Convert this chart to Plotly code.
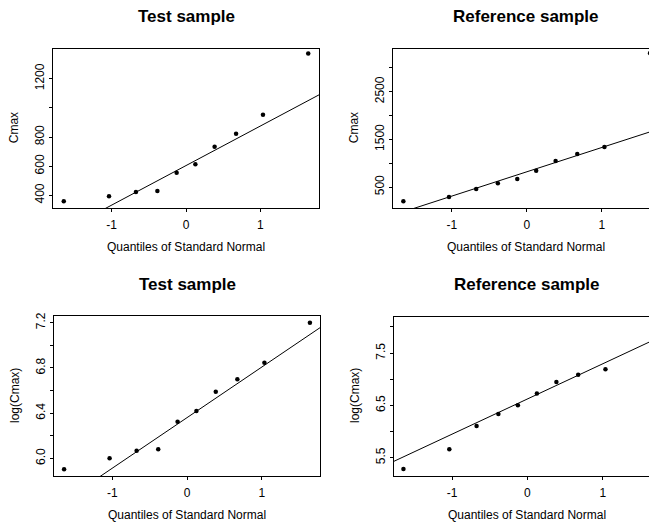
import plotly.graph_objects as go

# ---- data ----
normal_quantiles = [-1.645, -1.036, -0.674, -0.385, -0.126, 0.126, 0.385, 0.674, 1.036, 1.645]
test_cmax = [359, 393, 423, 430, 554, 613, 733, 822, 953, 1373]
ref_cmax = [200, 290, 458, 578, 668, 844, 1045, 1192, 1338, 3309]
test_log_cmax = [5.903, 6.000, 6.068, 6.080, 6.324, 6.419, 6.590, 6.699, 6.846, 7.200]
ref_log_cmax = [5.283, 5.660, 6.107, 6.337, 6.503, 6.727, 6.950, 7.085, 7.193, 8.107]

# reference lines (intercept, slope)
test_line = (604, 271)
ref_line = (819, 510)
test_log_line = (6.360, 0.447)
ref_log_line = (6.623, 0.673)

titles = ["Test sample", "Reference sample", "Test sample", "Reference sample"]
y_titles = ["Cmax", "Cmax", "log(Cmax)", "log(Cmax)"]
x_title = "Quantiles of Standard Normal"
x_tickvals = [-1, 0, 1]
x_ticktext = ["-1", "0", "1"]

y_ticks = [
    ([400, 600, 800, 1000, 1200], ["400", "600", "800", "", "1200"]),
    ([500, 1000, 1500, 2000, 2500, 3000], ["500", "", "1500", "", "2500", ""]),
    ([6.0, 6.2, 6.4, 6.6, 6.8, 7.0, 7.2], ["6.0", "", "6.4", "", "6.8", "", "7.2"]),
    ([5.5, 6.0, 6.5, 7.0, 7.5, 8.0], ["5.5", "", "6.5", "", "7.5", ""]),
]

PAGE_W, PAGE_H = 657, 527
OFF = 8  # default page body margin
W, H = PAGE_W - OFF, PAGE_H - OFF
FONT = "Liberation Sans, Arial, sans-serif"


def px(xp):
    return (xp - OFF) / W


def py(yp):
    return 1 - (yp - OFF) / H


# panel boxes in page pixels: (left, right, top, bottom)
boxes = [(53, 319, 48.5, 208), (393, 657, 48.5, 208), (54, 320, 316, 476), (394, 657, 316.5, 475.5)]
x_ranges = [[-1.79, 1.79], [-1.783, 1.737], [-1.78, 1.78], [-1.77, 1.72]]
y_ranges = [[313, 1407], [60, 3407], [5.844, 7.259], [5.16, 8.20]]

series = [test_cmax, ref_cmax, test_log_cmax, ref_log_cmax]
lines = [test_line, ref_line, test_log_line, ref_log_line]

fig = go.Figure()
annotations = []
for i in range(4):
    n = i + 1
    xa = "x" if n == 1 else f"x{n}"
    ya = "y" if n == 1 else f"y{n}"
    l, r, t, b = boxes[i]
    xr = x_ranges[i]
    a, s = lines[i]
    fig.add_trace(go.Scatter(
        x=normal_quantiles, y=series[i], mode="markers", cliponaxis=False,
        marker=dict(color="black", size=4.5), xaxis=xa, yaxis=ya, showlegend=False))
    fig.add_trace(go.Scatter(
        x=[xr[0], xr[1]], y=[a + s * xr[0], a + s * xr[1]], mode="lines",
        line=dict(color="black", width=1), xaxis=xa, yaxis=ya, showlegend=False))

    xkey = "xaxis" if n == 1 else f"xaxis{n}"
    ykey = "yaxis" if n == 1 else f"yaxis{n}"
    fig.update_layout(**{
        xkey: dict(domain=[px(l), min(px(r), 1.0)], range=xr, anchor=ya,
                   tickvals=x_tickvals, ticktext=x_ticktext,
                   ticks="outside", ticklen=3, tickcolor="black",
                   ticklabelstandoff=3,
                   showline=True, linecolor="black", linewidth=1, mirror=True,
                   showgrid=False, zeroline=False, automargin=False,
                   tickfont=dict(family=FONT, size=12, color="black")),
        ykey: dict(domain=[py(b), py(t)], range=y_ranges[i], anchor=xa,
                   tickvals=y_ticks[i][0], ticktext=y_ticks[i][1],
                   tickangle=-90, ticks="outside", ticklen=3, tickcolor="black",
                   showline=True, linecolor="black", linewidth=1,
                   mirror=(i % 2 == 0),
                   showgrid=False, zeroline=False, automargin=False,
                   tickfont=dict(family=FONT, size=12, color="black")),
    })
    cx = (l + (l + 266)) / 2
    annotations.append(dict(text=f"<b>{titles[i]}</b>", x=px(cx), y=py(t - 32),
                            xref="paper", yref="paper", showarrow=False,
                            font=dict(family=FONT, size=17, color="black"),
                            xanchor="center", yanchor="middle"))
    annotations.append(dict(text=x_title, x=px(cx), y=py(b + 39),
                            xref="paper", yref="paper", showarrow=False,
                            font=dict(family=FONT, size=12, color="black"),
                            xanchor="center", yanchor="middle"))
    annotations.append(dict(text=y_titles[i], x=px(l - 39), y=py((t + b) / 2),
                            xref="paper", yref="paper", showarrow=False, textangle=-90,
                            font=dict(family=FONT, size=12, color="black"),
                            xanchor="center", yanchor="middle"))

fig.update_layout(width=W, height=H, margin=dict(l=0, r=0, t=0, b=0),
                  paper_bgcolor="white", plot_bgcolor="white",
                  annotations=annotations, showlegend=False)

fig.write_html("out.html")
